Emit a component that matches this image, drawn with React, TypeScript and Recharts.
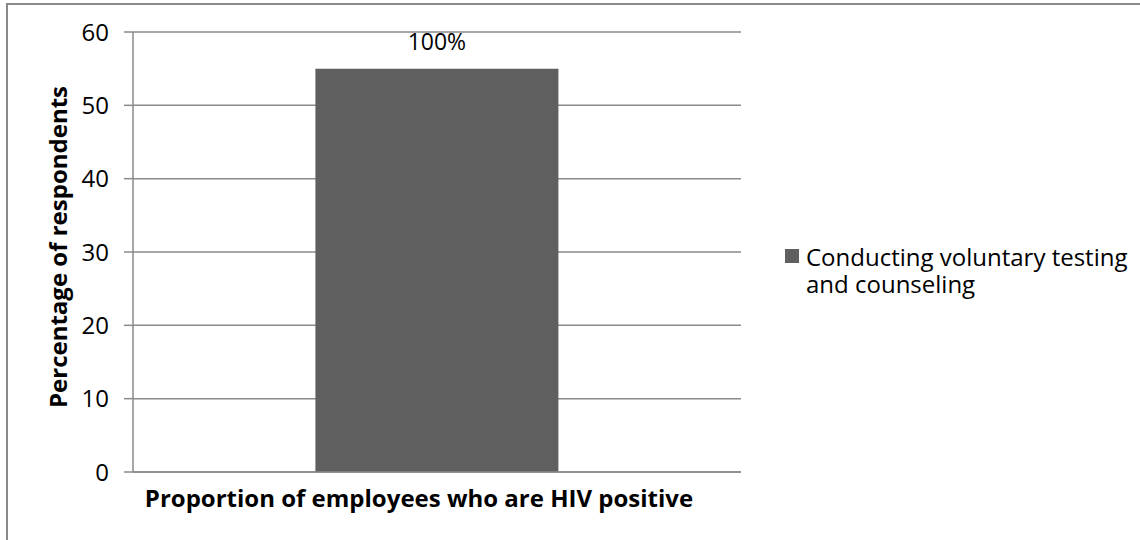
import React from 'react';
import { BarChart, Bar, XAxis, YAxis, CartesianGrid, Legend, LabelList, Label } from 'recharts';

const categories = ['Proportion of employees who are HIV positive'];
const seriesName = 'Conducting voluntary testing and counseling';
const values = [55];
const barLabels = ['100%'];
const yTicks = [0, 10, 20, 30, 40, 50, 60];
const yAxisTitle = 'Percentage of respondents';
const xAxisTitle = categories[0];

const data = categories.map((c, i) => ({ category: c, value: values[i], label: barLabels[i] }));

const FONT = '"Open Sans", sans-serif';
const GRID = '#8a8a8a';
const BAR = '#5f5f5f';
const FS = 24;
const SW = 1.5;

const LegendContent = () => (
  <div style={{ display: 'flex', alignItems: 'flex-start', fontFamily: FONT, fontSize: FS, color: '#000', lineHeight: '27px' }}>
    <div style={{ width: 14, height: 14, background: BAR, marginTop: 6, marginRight: 7, flex: '0 0 auto' }} />
    <div style={{ width: 325 }}>{seriesName}</div>
  </div>
);

export default function App() {
  return (
    <div style={{ position: 'fixed', left: 0, top: 0, width: 1140, height: 540, overflow: 'hidden', background: '#fff' }}>
      <svg width={1140} height={540} style={{ position: 'absolute', left: 0, top: 0 }}>
        <path d="M7 600 L7 4 L1200 4" fill="none" stroke="#8a8a8a" strokeWidth={2} />
      </svg>
      <div style={{ position: 'absolute', left: 0, top: 0 }}>
        <BarChart width={1140} height={540} data={data} margin={{ top: 32, right: 399, bottom: 0, left: 0 }} barCategoryGap="30%">
          <CartesianGrid vertical={false} stroke={GRID} strokeWidth={SW} />
          <XAxis
            dataKey="category"
            tick={false}
            tickLine={false}
            axisLine={{ stroke: GRID, strokeWidth: SW }}
            height={68}
          >
            <Label
              content={() => (
                <text x={419} y={497} textAnchor="middle" dominantBaseline="central" fontFamily={FONT} fontSize={FS} fontWeight="bold" fill="#000">
                  {xAxisTitle}
                </text>
              )}
            />
          </XAxis>
          <YAxis
            width={133}
            domain={[0, 60]}
            ticks={yTicks}
            interval={0}
            tickSize={9}
            tickMargin={15}
            tickLine={{ stroke: GRID, strokeWidth: SW }}
            axisLine={{ stroke: GRID, strokeWidth: SW }}
            tick={{ fontFamily: FONT, fontSize: FS, fill: '#000' }}
          >
            <Label
              content={() => (
                <text x={57} y={247} transform="rotate(-90 57 247)" textAnchor="middle" dominantBaseline="central" fontFamily={FONT} fontSize={FS} fontWeight="bold" fill="#000">
                  {yAxisTitle}
                </text>
              )}
            />
          </YAxis>
          <Legend
            layout="vertical"
            align="center"
            verticalAlign="middle"
            content={<LegendContent />}
            wrapperStyle={{ position: 'absolute', left: 785, top: 243, width: 360 }}
          />
          <Bar dataKey="value" name={seriesName} fill={BAR} isAnimationActive={false}>
            <LabelList dataKey="label" position="top" offset={19} style={{ fontFamily: FONT, fontSize: 23, fill: '#000' }} />
          </Bar>
        </BarChart>
      </div>
    </div>
  );
}
